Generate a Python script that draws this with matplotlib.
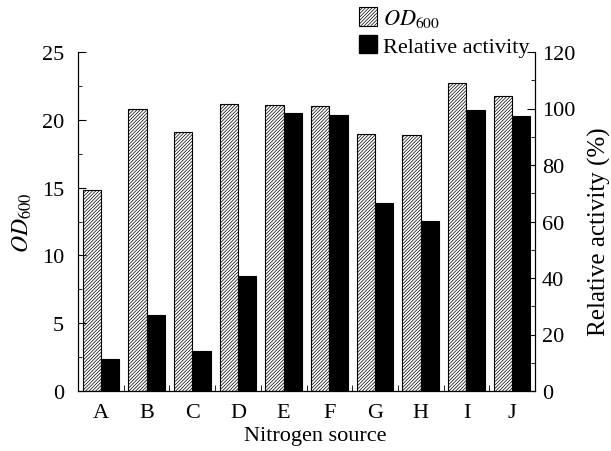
import matplotlib
matplotlib.use("Agg")
import matplotlib.pyplot as plt
import numpy as np
from matplotlib.patches import Patch
from matplotlib.ticker import MultipleLocator, FixedLocator

plt.rcParams['font.family'] = ['Liberation Serif', 'DejaVu Serif']
plt.rcParams['mathtext.fontset'] = 'stix'
plt.rcParams['hatch.linewidth'] = 0.5

categories = ['A', 'B', 'C', 'D', 'E', 'F', 'G', 'H', 'I', 'J']
od600 = [14.8, 20.8, 19.1, 21.2, 21.1, 21.0, 18.95, 18.85, 22.75, 21.75]
activity = [11.4, 26.8, 14.2, 40.8, 98.4, 97.8, 66.5, 60.2, 99.5, 97.4]

fs = 16
fig = plt.figure(figsize=(6.11, 4.52), dpi=100)
ax = fig.add_axes([78/611, 1 - 392/452, (535 - 78)/611, (392 - 53)/452])
ax2 = ax.twinx()

x = np.arange(len(categories))
w = 0.4
ax.bar(x - w/2, od600, width=w, facecolor='white', edgecolor='black',
       hatch='//////////', linewidth=0.8)
ax2.bar(x + w/2, activity, width=w, facecolor='black', edgecolor='black',
        linewidth=0.8)

ax.set_xlim(-0.5, len(categories) - 0.5)
ax.set_ylim(0, 25)
ax2.set_ylim(0, 120)

ax.set_xticks(x)
ax.set_xticklabels(categories, fontsize=fs)
ax.xaxis.set_minor_locator(FixedLocator(np.arange(-0.5, len(categories), 1.0)))
ax.tick_params(axis='x', which='major', length=0, pad=9)
ax.tick_params(axis='x', which='minor', direction='in', length=4, top=False)

ax.yaxis.set_major_locator(MultipleLocator(5))
ax.yaxis.set_minor_locator(MultipleLocator(2.5))
ax.tick_params(axis='y', which='major', direction='in', length=6, labelsize=fs, pad=10)
ax.tick_params(axis='y', which='minor', direction='in', length=3)

ax2.yaxis.set_major_locator(MultipleLocator(20))
ax2.yaxis.set_minor_locator(MultipleLocator(10))
ax2.tick_params(axis='y', which='major', direction='in', length=6, labelsize=fs, pad=5)
ax2.tick_params(axis='y', which='minor', direction='in', length=3)

for a in (ax, ax2):
    a.spines['top'].set_visible(False)

ax.set_xlabel('Nitrogen source', fontsize=fs)
ax.xaxis.set_label_coords((315 - 78) / 457, (392 - 427) / 339)
ax.set_ylabel(r'$OD_{600}$', fontsize=17, labelpad=6)
ax2.set_ylabel('Relative activity (%)', fontsize=18)
ax2.yaxis.set_label_coords((588 - 78) / 457, (392 - 232) / 339)

handles = [Patch(facecolor='white', edgecolor='black', hatch='//////////', linewidth=0.8),
           Patch(facecolor='black', edgecolor='black')]
labels = [r'$OD_{600}$', 'Relative activity']
fig.legend(handles, labels, loc='upper left', bbox_to_anchor=(356/611, 1 - 5/452),
           frameon=False, fontsize=fs, handlelength=0.8, handleheight=0.9,
           handletextpad=0.25, labelspacing=0.25, borderaxespad=0.0, borderpad=0.15)

fig.savefig('out.png', dpi=100)
